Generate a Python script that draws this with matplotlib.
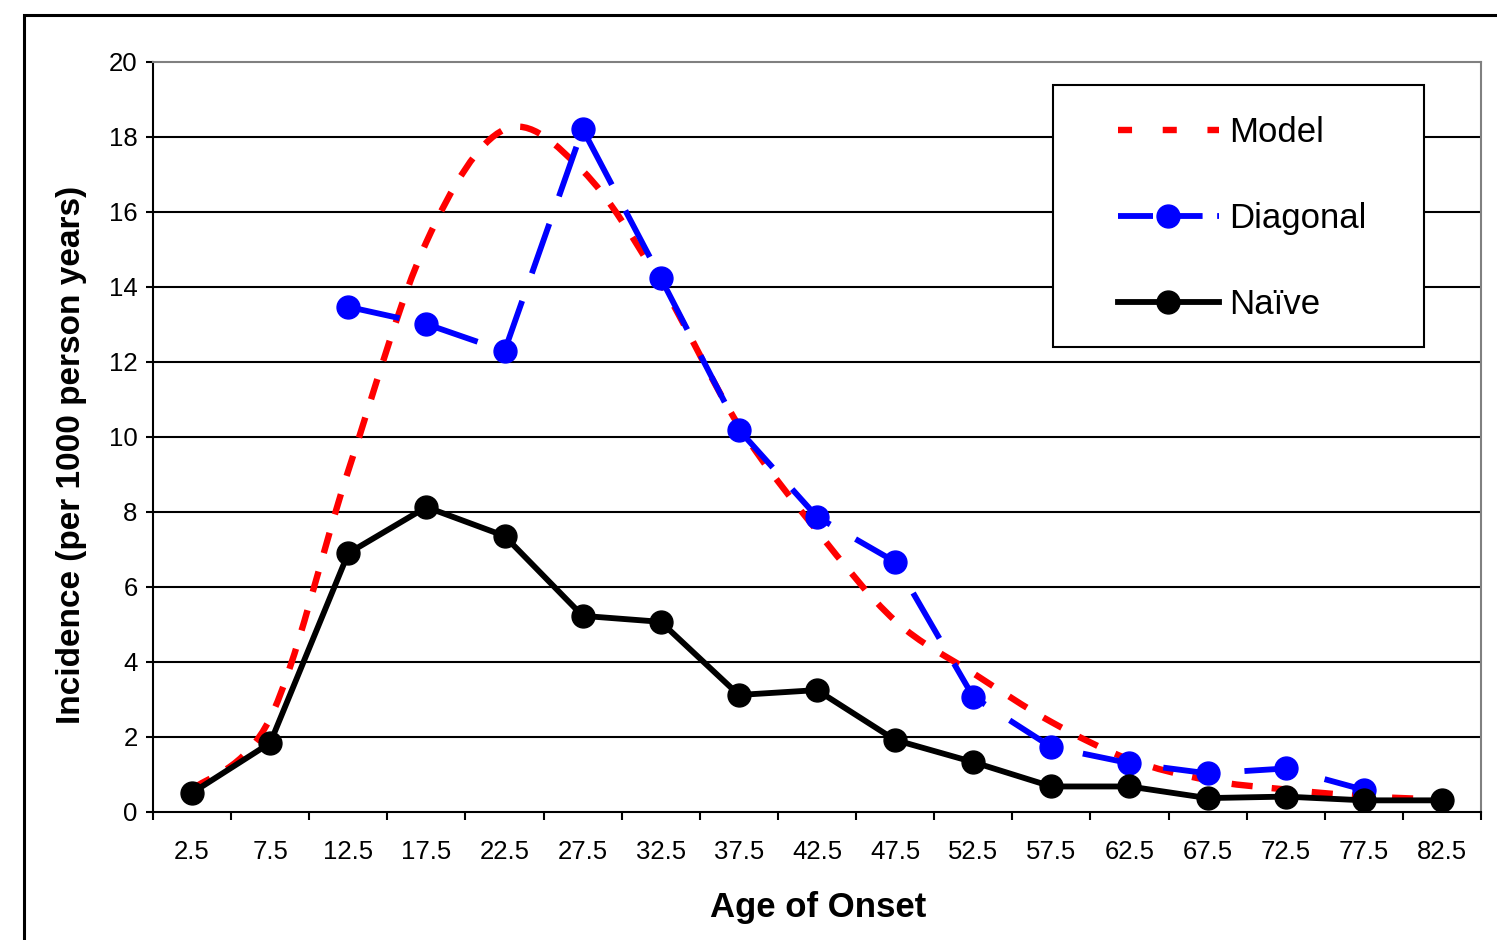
import numpy as np
import matplotlib
matplotlib.use("Agg")
import matplotlib.pyplot as plt
from matplotlib.path import Path
from matplotlib.patches import PathPatch, Rectangle
from matplotlib.lines import Line2D

plt.rcParams['font.family'] = ['Liberation Sans', 'DejaVu Sans']

#==================== DATA ====================

ages = ['2.5', '7.5', '12.5', '17.5', '22.5', '27.5', '32.5', '37.5', '42.5',
        '47.5', '52.5', '57.5', '62.5', '67.5', '72.5', '77.5', '82.5']

model = [0.6, 2.5, 9.1, 15.2, 18.2, 17.1, 14.1, 10.3, 7.5, 5.1, 3.7, 2.4,
         1.4, 0.85, 0.6, 0.42, 0.33]
diagonal = [np.nan, np.nan, 13.47, 13.01, 12.29, 18.21, 14.24, 10.19, 7.87,
            6.67, 3.07, 1.73, 1.3, 1.03, 1.16, 0.59, np.nan]
naive = [0.51, 1.84, 6.9, 8.13, 7.36, 5.23, 5.07, 3.12, 3.25, 1.92, 1.33,
         0.68, 0.68, 0.37, 0.41, 0.31, 0.31]

y_ticks = [0, 2, 4, 6, 8, 10, 12, 14, 16, 18, 20]

#==================== HELPERS ====================

def smooth_path(x, y):
    # excel-like smoothed line: cubic bezier through every point
    pts = np.column_stack([x, y])
    n = len(pts)
    verts = [pts[0]]
    codes = [Path.MOVETO]
    for i in range(n - 1):
        p0 = pts[max(i - 1, 0)]
        p1 = pts[i]
        p2 = pts[i + 1]
        p3 = pts[min(i + 2, n - 1)]
        c1 = p1 + (p2 - p0) / 6.0
        c2 = p2 - (p3 - p1) / 6.0
        verts += [c1, c2, p2]
        codes += [Path.CURVE4] * 3
    return Path(verts, codes)

#==================== FIGURE ====================

fig = plt.figure(figsize=(14.97, 9.4), dpi=100)
ax = fig.add_axes([0.1022, 0.1362, 0.8871, 0.7979])

x = np.arange(len(ages))

for level in y_ticks[1:-1]:
    ax.axhline(level, color='black', lw=1.5, zorder=1)

model_dash = (0, (3.3, 3.0))
diag_dash = (0, (9, 5))

ax.add_patch(PathPatch(smooth_path(x, model), fill=False, edgecolor='#ff0000',
                       lw=4.6, linestyle=model_dash, capstyle='butt', zorder=3))
ax.plot(x, diagonal, color='#0000ff', lw=4.2, linestyle=diag_dash,
        marker='o', markersize=16.5, zorder=4)
ax.plot(x, naive, color='black', lw=4.2, marker='o', markersize=16.5, zorder=5)

ax.set_xlim(-0.5, len(ages) - 0.5)
ax.set_ylim(0, 20)

# ticks between categories, labels under the categories
ax.set_xticks(np.arange(-0.5, len(ages), 1.0))
ax.set_xticklabels([])
ax.set_xticks(x, minor=True)
ax.set_xticklabels(ages, minor=True)
ax.tick_params(axis='x', which='major', direction='out', length=6, width=1.5)
ax.tick_params(axis='x', which='minor', length=0, pad=20, labelsize=18.5)
ax.set_yticks(y_ticks)
ax.tick_params(axis='y', direction='out', length=5, width=1.5, pad=6, labelsize=18.5)

for side in ['left', 'bottom']:
    ax.spines[side].set_color('black')
    ax.spines[side].set_linewidth(1.5)
for side in ['top', 'right']:
    ax.spines[side].set_color('#808080')
    ax.spines[side].set_linewidth(1.5)

ax.set_xlabel('Age of Onset', fontsize=25, fontweight='bold')
ax.xaxis.label.set_verticalalignment('center')
ax.xaxis.set_label_coords(0.5008, -0.127)
ax.set_ylabel('Incidence (per 1000 person years)', fontsize=24, fontweight='bold')
ax.yaxis.label.set_verticalalignment('center')
ax.yaxis.set_label_coords(-0.061, 0.476)

# legend box
ax.add_patch(Rectangle((0.6777, 0.62), 0.2793, 0.3493, transform=ax.transAxes,
                       facecolor='white', edgecolor='black', lw=1.5, zorder=6))
handles = [
    Line2D([], [], color='#ff0000', lw=4.6, linestyle=(0, (2.2, 4.8))),
    Line2D([], [], color='#0000ff', lw=4.2, linestyle=(0, (6, 2.5)),
           marker='o', markersize=16.5),
    Line2D([], [], color='black', lw=4.2, marker='o', markersize=16.5),
]
leg = ax.legend(handles, ['Model', 'Diagonal', 'Naïve'], loc='upper left',
                bbox_to_anchor=(0.7267, 0.9277), frameon=False, fontsize=25,
                handlelength=2.9, handletextpad=0.3, labelspacing=1.53,
                borderpad=0, borderaxespad=0)
leg.set_zorder(7)

# outer chart frame
fig.patches.append(Rectangle((24 / 1497, -0.1), 1.2, 1.1 - 15 / 940,
                             transform=fig.transFigure, fill=False,
                             edgecolor='black', lw=2.2))

fig.savefig('out.png', dpi=100)
